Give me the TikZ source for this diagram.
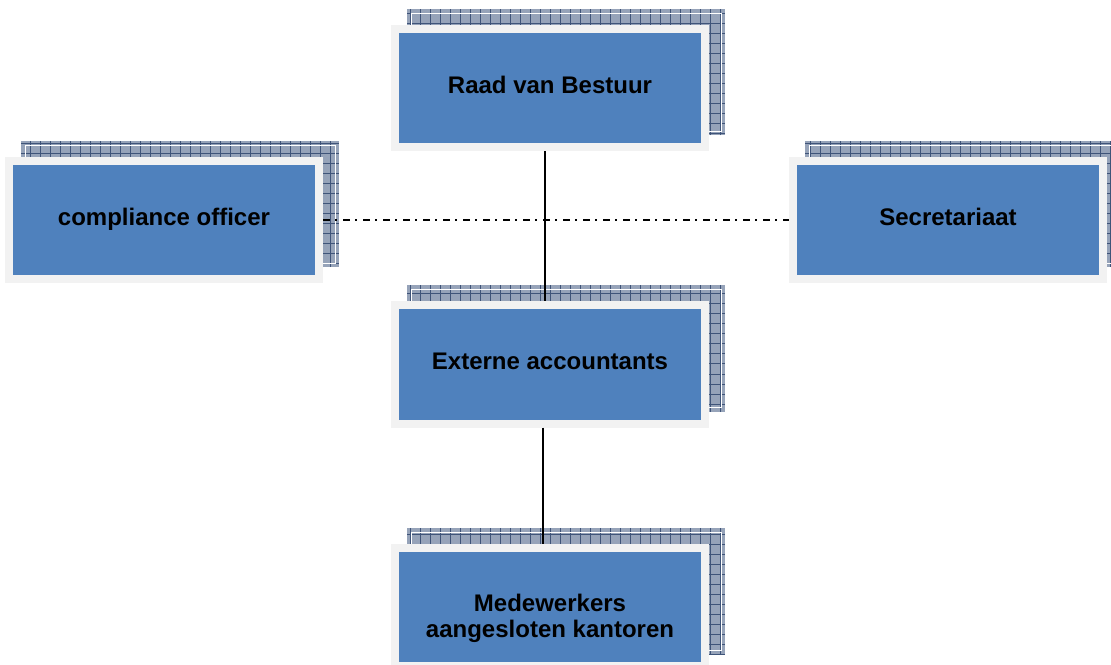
\documentclass[tikz,border=0pt]{standalone}
\usepackage{fontspec}
\setmainfont{Liberation Sans}
\usetikzlibrary{calc,backgrounds}
\definecolor{boxblue}{HTML}{4F81BD}
\definecolor{boxrim}{HTML}{F2F2F2}
\definecolor{shadefill}{HTML}{96A3B9}
\definecolor{shadegrid}{HTML}{3F5479}

\begin{document}
\begin{tikzpicture}[x=0.5pt,y=0.5pt,line join=round,
    orgbox/.style={draw=boxrim,line width=4pt,line join=miter,fill=boxblue,minimum width=155pt,minimum height=59pt,
      font=\bfseries\fontsize{12}{13}\selectfont,text height=8pt,text depth=2.5pt,align=center},
    shade/.style={fill=shadefill,draw=none},
    shadelines/.style={shadegrid,line width=0.5pt},
    link/.style={line width=1pt},
    dotlink/.style={line width=1pt,dash pattern=on 3.5pt off 2.5pt on 1pt off 3pt}]
                \useasboundingbox (0,0) rectangle (1111,664);
                % boxes
                \node[orgbox] (raad) at (550,575.5) {Raad van Bestuur};
                \node[orgbox] (comp) at (164,444) {compliance officer};
                \node[orgbox] (secr) at (948,444) {Secretariaat};
                \node[orgbox] (ext)  at (550,299.5) {Externe accountants};
                \node[orgbox,text height=,text depth=] (med) at (550,57)
                     {\rule{0pt}{20.5pt}Medewerkers\\aangesloten kantoren};
                % shadows behind the boxes
                \begin{scope}[on background layer]
                \foreach \n in {raad,comp,secr,ext,med} {
                  \path[shade] ($(\n.south west)+(8pt,8pt)$) rectangle ($(\n.north east)+(8pt,8pt)$);
                  \draw[shadelines,step=5pt] ($(\n.south west)+(8pt,8pt)$) grid ($(\n.north east)+(8pt,8pt)$);
                  \draw[white,line width=0.4pt] ($(\n.south west)+(10pt,10pt)$) rectangle ($(\n.north east)+(6pt,6pt)$);
                }
                \end{scope}
                % connectors
                \draw[link] ([xshift=-2.5pt]raad.south) -- ([xshift=-2.5pt]ext.north);
                \draw[link] ([xshift=-3.5pt]ext.south) -- ([xshift=-3.5pt]med.north);
                \draw[dotlink] (comp.east) -- (secr.west);
\end{tikzpicture}
\end{document}
